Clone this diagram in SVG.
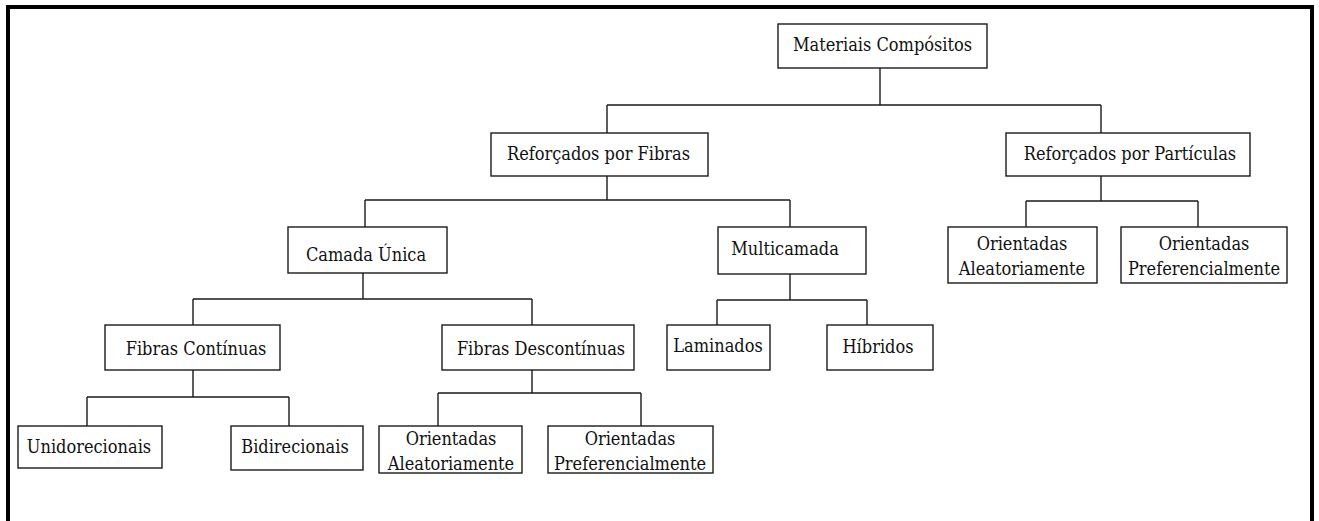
<svg xmlns="http://www.w3.org/2000/svg" width="1319" height="521" viewBox="0 0 1319 521">
<style>
.box{fill:#fff;stroke:#1a1a1a;stroke-width:1.4}
.t{font-family:'DejaVu Serif Condensed','DejaVu Serif',serif;font-stretch:condensed;font-size:18px;fill:#111;text-anchor:middle}
.c{fill:none;stroke:#1a1a1a;stroke-width:1.4}
</style>
<rect x="0" y="0" width="1319" height="521" fill="#fff"/>
<rect x="8" y="7" width="1304" height="530" fill="none" stroke="#000" stroke-width="4"/>
<g id="connectors">
<path class="c" d="M880,68V105M607,105H1101M607,105V133M1101,105V133"/>
<path class="c" d="M607,176V200M365,200H790M365,200V227M790,200V227"/>
<path class="c" d="M1101,176V201M1026,201H1198M1026,201V227M1198,201V227"/>
<path class="c" d="M363,273V299M193,299H532M193,299V325M532,299V325"/>
<path class="c" d="M790,274V300M717,300H867M717,300V325M867,300V325"/>
<path class="c" d="M193,370V397M87,397H289M87,397V426M289,397V426"/>
<path class="c" d="M532,370V393M438,393H641M438,393V426M641,393V426"/>
</g>
<g id="materiais"><rect class="box" x="778" y="24" width="209" height="44"/><text class="t" x="882.5" y="51">Materiais Compósitos</text></g>
<g id="fibras"><rect class="box" x="491" y="133" width="217" height="43"/><text class="t" x="598.5" y="160">Reforçados por Fibras</text></g>
<g id="particulas"><rect class="box" x="1006" y="133" width="244" height="43"/><text class="t" x="1130" y="160">Reforçados por Partículas</text></g>
<g id="part-aleat"><rect class="box" x="948" y="227" width="149" height="56"/><text class="t" x="1022" y="250">Orientadas</text><text class="t" x="1022" y="275">Aleatoriamente</text></g>
<g id="part-pref"><rect class="box" x="1121" y="227" width="166" height="56"/><text class="t" x="1204" y="250">Orientadas</text><text class="t" x="1204" y="275">Preferencialmente</text></g>
<g id="camada-unica"><rect class="box" x="288" y="227" width="159" height="46"/><text class="t" x="366" y="261">Camada Única</text></g>
<g id="multicamada"><rect class="box" x="718" y="227" width="148" height="47"/><text class="t" x="785" y="255">Multicamada</text></g>
<g id="continuas"><rect class="box" x="105" y="325" width="175" height="45"/><text class="t" x="196" y="355">Fibras Contínuas</text></g>
<g id="descontinuas"><rect class="box" x="442" y="325" width="192" height="45"/><text class="t" x="541" y="355">Fibras Descontínuas</text></g>
<g id="laminados"><rect class="box" x="667" y="325" width="103" height="45"/><text class="t" x="718" y="352">Laminados</text></g>
<g id="hibridos"><rect class="box" x="827" y="325" width="106" height="45"/><text class="t" x="878" y="353">Híbridos</text></g>
<g id="unidorecionais"><rect class="box" x="18" y="426" width="144" height="42"/><text class="t" x="89" y="453">Unidorecionais</text></g>
<g id="bidirecionais"><rect class="box" x="231" y="426" width="132" height="44"/><text class="t" x="295" y="453">Bidirecionais</text></g>
<g id="desc-aleat"><rect class="box" x="379" y="426" width="143" height="47"/><text class="t" x="451" y="445">Orientadas</text><text class="t" x="451" y="470">Aleatoriamente</text></g>
<g id="desc-pref"><rect class="box" x="548" y="426" width="165" height="47"/><text class="t" x="630" y="445">Orientadas</text><text class="t" x="630" y="470">Preferencialmente</text></g>
</svg>
